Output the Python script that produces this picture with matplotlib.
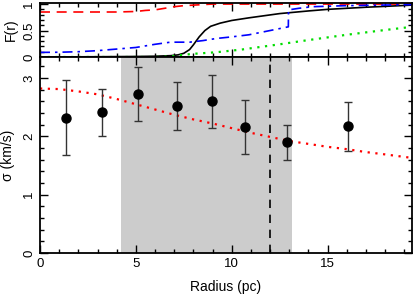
import matplotlib
matplotlib.use("Agg")
import matplotlib.pyplot as plt
from matplotlib.ticker import MultipleLocator

plt.rcParams['font.family'] = ['Liberation Sans', 'DejaVu Sans']

# dispersion data points
r_obs = [1.37, 3.23, 5.09, 7.17, 8.99, 10.68, 12.9, 16.04]
sig_obs = [2.32, 2.41, 2.73, 2.52, 2.60, 2.16, 1.90, 2.17]
sig_hi = [0.64, 0.40, 0.45, 0.41, 0.45, 0.46, 0.30, 0.42]
sig_lo = [0.64, 0.41, 0.46, 0.41, 0.46, 0.46, 0.31, 0.42]

# model dispersion profile (red dotted)
r_mod = [0, 1, 2, 3, 4, 5, 6, 7, 8, 9, 10, 11, 12, 13, 14, 15, 16, 17, 18, 19.4]
sig_mod = [2.82, 2.81, 2.77, 2.72, 2.64, 2.55, 2.46, 2.37, 2.29, 2.22, 2.14,
           2.06, 1.99, 1.92, 1.87, 1.82, 1.78, 1.73, 1.69, 1.63]

# cumulative functions, top panel
r_red = [0, 2, 4, 5, 5.5, 6, 6.5, 7, 7.5, 8, 9, 10, 19.4]
f_red = [0.85, 0.85, 0.85, 0.86, 0.88, 0.89, 0.92, 0.95, 0.97, 0.98, 1.0, 1.0, 1.0]

r_blk = [0, 3, 5, 6, 6.8, 7.2, 7.5, 7.8, 8.0, 8.3, 8.6, 8.9, 9.4, 10, 10.9,
         12.5, 14, 15, 17, 19.4]
f_blk = [0, 0.005, 0.01, 0.015, 0.025, 0.04, 0.07, 0.14, 0.23, 0.38, 0.5, 0.58,
         0.64, 0.69, 0.74, 0.82, 0.87, 0.9, 0.94, 0.98]

r_blu = [0, 1, 2, 3, 4, 5, 6, 6.8, 7.8, 8.5, 9.2, 10, 10.9, 12, 12.95,
         12.96, 13.5, 14.2, 16, 19.4]
f_blu = [0.087, 0.09, 0.1, 0.12, 0.15, 0.18, 0.24, 0.28, 0.28, 0.31, 0.35,
         0.38, 0.42, 0.5, 0.57, 0.89, 0.92, 0.95, 0.97, 0.99]

r_grn = [0, 6, 6.8, 7.45, 8, 9.2, 10.5, 12.5, 14, 16, 18, 19.4]
f_grn = [0, 0, 0.01, 0.04, 0.06, 0.09, 0.14, 0.24, 0.32, 0.42, 0.51, 0.57]

shade = (4.22, 13.14)
r_cut = 12.0

fig = plt.figure(figsize=(4.14, 3.0), dpi=100)
ax1 = fig.add_axes([0.0966, 0.81, 0.8986, 0.18])
ax2 = fig.add_axes([0.0966, 0.1567, 0.8986, 0.6533])

ax1.plot(r_red, f_red, color='red', lw=1.2, ls=(0, (6, 4)))
ax1.plot(r_blk, f_blk, color='black', lw=1.2)
ax1.plot(r_blu, f_blu, color='blue', lw=1.2, ls=(0, (6, 3, 1.5, 3)))
ax1.plot(r_grn, f_grn, color='#00dd00', lw=1.6, ls=(0, (1, 2.5)))
ax1.set_xlim(0, 19.4)
ax1.set_ylim(0, 1.02)
ax1.set_ylabel('F(r)', fontsize=10, labelpad=4)
ax1.set_yticks([0, 0.5, 1])
ax1.set_yticklabels(['0', '0.5', '1'], rotation=90, va='center')
ax1.xaxis.set_major_locator(MultipleLocator(5))
ax1.xaxis.set_minor_locator(MultipleLocator(1))
ax1.yaxis.set_minor_locator(MultipleLocator(0.1))
ax1.tick_params(labelbottom=False)

ax2.axvspan(shade[0], shade[1], color='#cccccc', lw=0, zorder=0)
ax2.axvline(r_cut, color='black', lw=1.2, ls=(0, (5, 4)))
ax2.plot(r_mod, sig_mod, color='red', lw=1.6, ls=(0, (1, 2.5)))
ax2.errorbar(r_obs, sig_obs, yerr=[sig_lo, sig_hi], fmt='o', color='black',
             ecolor='#333333', elinewidth=1.0, capsize=3, capthick=1.0,
             markersize=6.5)
ax2.set_xlim(0, 19.4)
ax2.set_ylim(0, 3.36)
ax2.set_xlabel('Radius (pc)', fontsize=10, labelpad=7)
ax2.set_ylabel('\u03c3 (km/s)', fontsize=10, labelpad=6)
ax2.set_yticks([0, 1, 2, 3])
ax2.set_yticklabels(['0', '1', '2', '3'], rotation=90, va='center')
ax2.xaxis.set_major_locator(MultipleLocator(5))
ax2.xaxis.set_minor_locator(MultipleLocator(1))
ax2.yaxis.set_minor_locator(MultipleLocator(0.2))

for ax in (ax1, ax2):
    for s in ax.spines.values():
        s.set_linewidth(1.3)
        s.set_zorder(5)
    ax.tick_params(which='both', direction='in', top=True, right=True,
                   labelsize=9.5, width=1.0)
    ax.tick_params(which='major', length=6)
    ax.tick_params(which='minor', length=3)

fig.savefig('out.png', dpi=100)
